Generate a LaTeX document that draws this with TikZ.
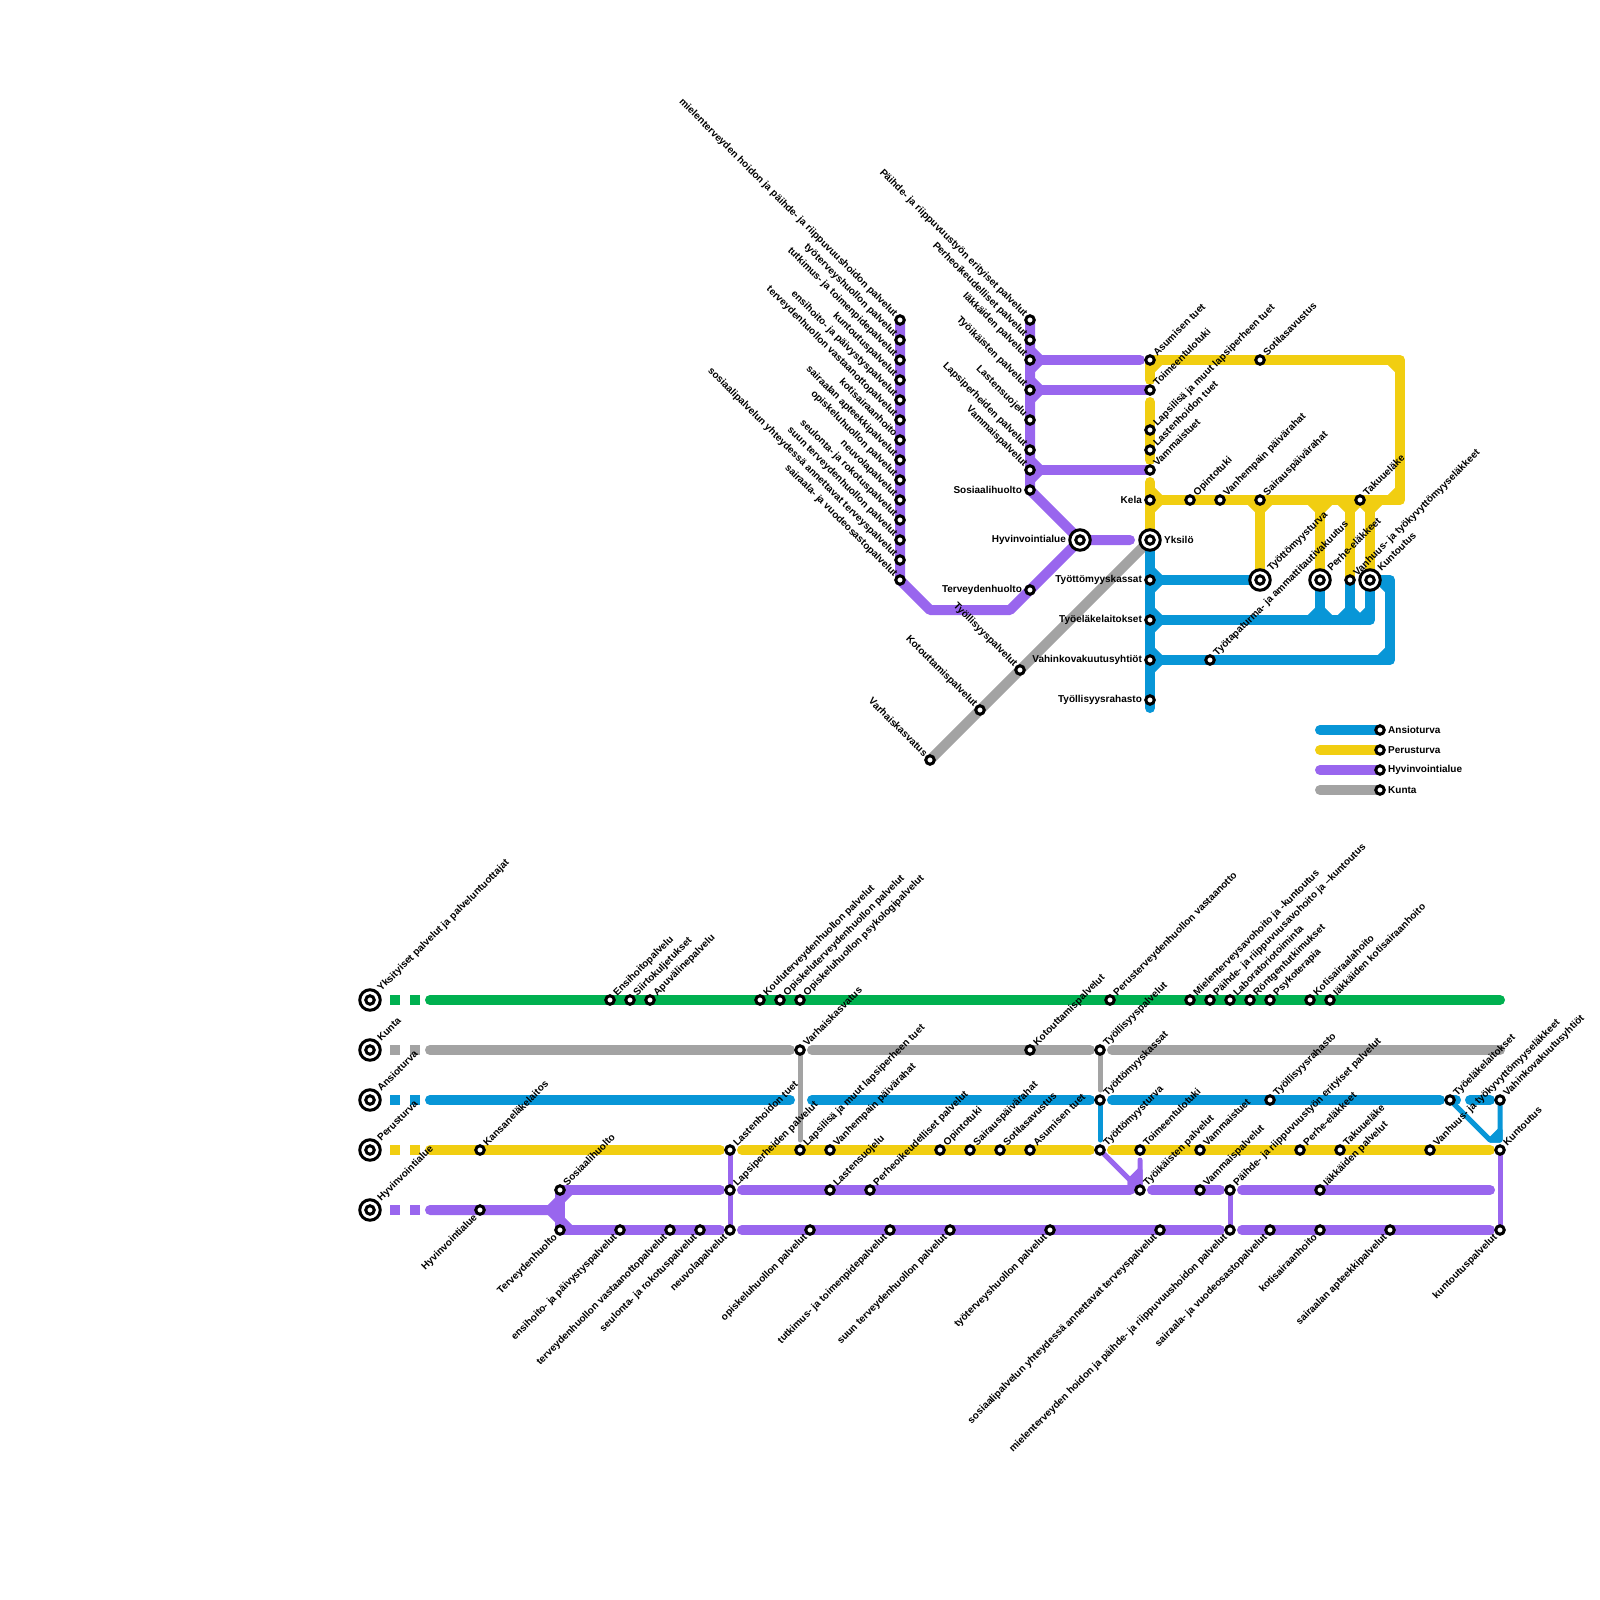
\documentclass[tikz,border=0pt]{standalone}
\usepackage{fontspec}
\setmainfont{Liberation Sans}
\usepackage{tikz}
\usetikzlibrary{backgrounds}

\definecolor{ansio}{HTML}{0896D7}
\definecolor{peru}{HTML}{F1CE11}
\definecolor{hyvin}{HTML}{9966EE}
\definecolor{kunta}{HTML}{A3A3A3}
\definecolor{yksit}{HTML}{00B050}

% haarojen kulmat
\newcommand{\jointr}[2]{\draw[ln,#1] ([shift={(0,-10)}]#2) -- ([shift={(10,0)}]#2) -- ([shift={(0,10)}]#2);}
\newcommand{\jointd}[2]{\draw[ln,#1] ([shift={(-10,0)}]#2) -- ([shift={(0,10)}]#2) -- ([shift={(10,0)}]#2);}
\newcommand{\jointu}[2]{\draw[ln,#1] ([shift={(-10,0)}]#2) -- ([shift={(0,-10)}]#2) -- ([shift={(10,0)}]#2);}

\begin{document}
\begin{tikzpicture}[
      x=0.5pt, y=-0.5pt,
      every label/.style={font=\bfseries\fontsize{5}{6}\selectfont, inner sep=0pt},
      stn/.style={circle, draw=black, line width=1.5pt, fill=white, minimum size=4.25pt, inner sep=0pt},
      hubc/.style={circle, draw=black, line width=1.5pt, fill=white, minimum size=10.25pt, inner sep=0pt},
      tne/.style={xshift=3.5pt, yshift=-1.2pt, rotate=45, anchor=base west},
      hne/.style={xshift=5.6pt, yshift=-1.85pt, rotate=45, anchor=base west},
      tnw/.style={xshift=-0.25pt, yshift=1.25pt, rotate=-45, anchor=base east},
      tsw/.style={xshift=-1.06pt, yshift=-1.06pt, rotate=45, anchor=base east},
      tl/.style={anchor=east, xshift=-1pt},
      tr/.style={anchor=west, xshift=1pt},
      ln/.style={line width=5pt, line cap=round, line join=round},
      slim/.style={line width=2.5pt, line cap=round, line join=round},
      dsh/.style={line width=5pt, dash pattern=on 5pt off 5pt},
      gapa/.style={shorten <=6pt},
      gapb/.style={shorten >=5pt}
    ]
    \useasboundingbox (0,0) rectangle (1600,1600);

    % YLAKARTTA: ASEMAT
    \node[stn, label={[tnw]180:mielenterveyden hoidon ja päihde- ja riippuvuushoidon palvelut}] (miel) at (900,320) {};
    \node[stn, label={[tnw]180:työterveyshuollon palvelut}] (tyot) at (900,340) {};
    \node[stn, label={[tnw]180:tutkimus- ja toimenpidepalvelut}] (tutk) at (900,360) {};
    \node[stn, label={[tnw]180:kuntoutuspalvelut}] (kuntp) at (900,380) {};
    \node[stn, label={[tnw]180:ensihoito- ja päivystyspalvelut}] (ensi) at (900,400) {};
    \node[stn, label={[tnw]180:terveydenhuollon vastaanottopalvelut}] (vast) at (900,420) {};
    \node[stn, label={[tnw]180:kotisairaanhoito}] (koti) at (900,440) {};
    \node[stn, label={[tnw]180:sairaalan apteekkipalvelut}] (apte) at (900,460) {};
    \node[stn, label={[tnw]180:opiskeluhuollon palvelut}] (opis) at (900,480) {};
    \node[stn, label={[tnw]180:neuvolapalvelut}] (neuv) at (900,500) {};
    \node[stn, label={[tnw]180:seulonta- ja rokotuspalvelut}] (seul) at (900,520) {};
    \node[stn, label={[tnw]180:suun terveydenhuollon palvelut}] (suun) at (900,540) {};
    \node[stn, label={[tnw]180:sosiaalipalvelun yhteydessä annettavat terveyspalvelut}] (sosp) at (900,560) {};
    \node[stn, label={[tnw]180:sairaala- ja vuodeosastopalvelut}] (vuod) at (900,580) {};

    \node[stn, label={[tnw]180:Päihde- ja riippuvuustyön erityiset palvelut}] (paih) at (1030,320) {};
    \node[stn, label={[tnw]180:Perheoikeudelliset palvelut}] (perh) at (1030,340) {};
    \node[stn, label={[tnw]180:Iäkkäiden palvelut}] (iakk) at (1030,360) {};
    \node[stn, label={[tnw]180:Työikäisten palvelut}] (tyoi) at (1030,390) {};
    \node[stn, label={[tnw]180:Lastensuojelu}] (lass) at (1030,420) {};
    \node[stn, label={[tnw]180:Lapsiperheiden palvelut}] (lapp) at (1030,450) {};
    \node[stn, label={[tnw]180:Vammaispalvelut}] (vamp) at (1030,470) {};
    \node[stn, label={[tl]180:Sosiaalihuolto}] (sosi) at (1030,490) {};
    \node[stn, label={[tl]180:Terveydenhuolto}] (terv) at (1030,590) {};
    \node[hubc, label={[tl]180:Hyvinvointialue}] (hyvi) at (1080,540) {};
    \node[stn] (hyviIn) at (hyvi) {};

    \node[stn, label={[tne]90:Asumisen tuet}] (asum) at (1150,360) {};
    \node[stn, label={[tne]90:Toimeentulotuki}] (toim) at (1150,390) {};
    \node[stn, label={[tne]90:Lapsilisä ja muut lapsiperheen tuet}] (lali) at (1150,430) {};
    \node[stn, label={[tne]90:Lastenhoidon tuet}] (lash) at (1150,450) {};
    \node[stn, label={[tne]90:Vammaistuet}] (vamt) at (1150,470) {};
    \node[stn, label={[tl]180:Kela}] (kela) at (1150,500) {};
    \node[hubc, label={[tr]0:Yksilö}] (yksi) at (1150,540) {};
    \node[stn] (yksiIn) at (yksi) {};
    \node[stn, label={[tl]180:Työttömyyskassat}] (kass) at (1150,580) {};
    \node[stn, label={[tl]180:Työeläkelaitokset}] (tyel) at (1150,620) {};
    \node[stn, label={[tl]180:Vahinkovakuutusyhtiöt}] (vahi) at (1150,660) {};
    \node[stn, label={[tl]180:Työllisyysrahasto}] (tyra) at (1150,700) {};

    \node[stn, label={[tne]90:Sotilasavustus}] (soti) at (1260,360) {};
    \node[stn, label={[tne]90:Opintotuki}] (opin) at (1190,500) {};
    \node[stn, label={[tne]90:Vanhempain päivärahat}] (vanp) at (1220,500) {};
    \node[stn, label={[tne]90:Sairauspäivärahat}] (sair) at (1260,500) {};
    \node[stn, label={[tne]90:Takuueläke}] (taku) at (1360,500) {};
    \node[hubc, label={[hne]90:Työttömyysturva}] (tytu) at (1260,580) {};
    \node[stn] (tytuIn) at (tytu) {};
    \node[hubc, label={[hne]90:Perhe-eläkkeet}] (peel) at (1320,580) {};
    \node[stn] (peelIn) at (peel) {};
    \node[stn, label={[tne]90:Vanhuus- ja työkyvyttömyyseläkkeet}] (vanh) at (1350,580) {};
    \node[hubc, label={[hne]90:Kuntoutus}] (kunt) at (1370,580) {};
    \node[stn] (kuntIn) at (kunt) {};
    \node[stn, label={[tne]90:Työtapaturma- ja ammattitautivakuutus}] (tapa) at (1210,660) {};

    \node[stn, label={[tnw]180:Työllisyyspalvelut}] (tyop) at (1020,670) {};
    \node[stn, label={[tnw]180:Kotouttamispalvelut}] (koto) at (980,710) {};
    \node[stn, label={[tnw]180:Varhaiskasvatus}] (varh) at (930,760) {};

    % SELITE
    \node[stn, label={[tr]0:Ansioturva}] (selA) at (1380,730) {};
    \node[stn, label={[tr]0:Perusturva}] (selP) at (1380,750) {};
    \node[stn, label={[tr]0:Hyvinvointialue}] (selH) at (1380,770) {};
    \node[stn, label={[tr]0:Kunta}] (selK) at (1380,790) {};

    % ALAKARTTA: ASEMAT
    \node[hubc, label={[hne]90:Yksityiset palvelut ja palveluntuottajat}] (rowY) at (370,1000) {};
    \node[stn] (rowYIn) at (rowY) {};
    \node[hubc, label={[hne]90:Kunta}] (rowK) at (370,1050) {};
    \node[stn] (rowKIn) at (rowK) {};
    \node[hubc, label={[hne]90:Ansioturva}] (rowA) at (370,1100) {};
    \node[stn] (rowAIn) at (rowA) {};
    \node[hubc, label={[hne]90:Perusturva}] (rowP) at (370,1150) {};
    \node[stn] (rowPIn) at (rowP) {};
    \node[hubc, label={[hne]90:Hyvinvointialue}] (rowH) at (370,1210) {};
    \node[stn] (rowHIn) at (rowH) {};

    % vihreä rivi
    \node[stn, label={[tne]90:Ensihoitopalvelu}] (gEnsi) at (610,1000) {};
    \node[stn, label={[tne]90:Siirtokuljetukset}] (gSiir) at (630,1000) {};
    \node[stn, label={[tne]90:Apuvälinepalvelu}] (gApuv) at (650,1000) {};
    \node[stn, label={[tne]90:Kouluterveydenhuollon palvelut}] (gKoul) at (760,1000) {};
    \node[stn, label={[tne]90:Opiskeluterveydenhuollon palvelut}] (gOpit) at (780,1000) {};
    \node[stn, label={[tne]90:Opiskeluhuollon psykologipalvelut}] (gOpih) at (800,1000) {};
    \node[stn, label={[tne]90:Perusterveydenhuollon vastaanotto}] (gPeru) at (1110,1000) {};
    \node[stn, label={[tne]90:Mielenterveysavohoito ja -kuntoutus}] (gMiel) at (1190,1000) {};
    \node[stn, label={[tne]90:Päihde- ja riippuvuusavohoito ja –kuntoutus}] (gPaih) at (1210,1000) {};
    \node[stn, label={[tne]90:Laboratoriotoiminta}] (gLabo) at (1230,1000) {};
    \node[stn, label={[tne]90:Röntgentutkimukset}] (gRont) at (1250,1000) {};
    \node[stn, label={[tne]90:Psykoterapia}] (gPsyk) at (1270,1000) {};
    \node[stn, label={[tne]90:Kotisairaalahoito}] (gKoti) at (1310,1000) {};
    \node[stn, label={[tne]90:Iäkkäiden kotisairaanhoito}] (gIakk) at (1330,1000) {};

    % harmaa rivi
    \node[stn, label={[tne]90:Varhaiskasvatus}] (kVarh) at (800,1050) {};
    \node[stn, label={[tne]90:Kotouttamispalvelut}] (kKoto) at (1030,1050) {};
    \node[stn, label={[tne]90:Työllisyyspalvelut}] (kTyop) at (1100,1050) {};

    % sininen rivi
    \node[stn, label={[tne]90:Työttömyyskassat}] (aKass) at (1100,1100) {};
    \node[stn, label={[tne]90:Työllisyysrahasto}] (aTyra) at (1270,1100) {};
    \node[stn, label={[tne]90:Työeläkelaitokset}] (aTyel) at (1450,1100) {};
    \node[stn, label={[tne]90:Vahinkovakuutusyhtiöt}] (aVahi) at (1500,1100) {};

    % keltainen rivi
    \node[stn, label={[tne]90:Kansaneläkelaitos}] (pKans) at (480,1150) {};
    \node[stn, label={[tne]90:Lastenhoidon tuet}] (pLash) at (730,1150) {};
    \node[stn, label={[tne]90:Lapsilisä ja muut lapsiperheen tuet}] (pLali) at (800,1150) {};
    \node[stn, label={[tne]90:Vanhempain päivärahat}] (pVanp) at (830,1150) {};
    \node[stn, label={[tne]90:Opintotuki}] (pOpin) at (940,1150) {};
    \node[stn, label={[tne]90:Sairauspäivärahat}] (pSair) at (970,1150) {};
    \node[stn, label={[tne]90:Sotilasavustus}] (pSoti) at (1000,1150) {};
    \node[stn, label={[tne]90:Asumisen tuet}] (pAsum) at (1030,1150) {};
    \node[stn, label={[tne]90:Työttömyysturva}] (pTytu) at (1100,1150) {};
    \node[stn, label={[tne]90:Toimeentulotuki}] (pToim) at (1140,1150) {};
    \node[stn, label={[tne]90:Vammaistuet}] (pVamt) at (1200,1150) {};
    \node[stn, label={[tne]90:Perhe-eläkkeet}] (pPeel) at (1300,1150) {};
    \node[stn, label={[tne]90:Takuueläke}] (pTaku) at (1340,1150) {};
    \node[stn, label={[tne]90:Vanhuus- ja työkyvyttömyyseläkkeet}] (pVanh) at (1430,1150) {};
    \node[stn, label={[tne]90:Kuntoutus}] (pKunt) at (1500,1150) {};

    % violetit rivit
    \node[stn, label={[tsw]270:Hyvinvointialue}] (hHyvi) at (480,1210) {};
    \node[stn, label={[tne]90:Sosiaalihuolto}] (hSosi) at (560,1190) {};
    \node[stn, label={[tne]90:Lapsiperheiden palvelut}] (hLapp) at (730,1190) {};
    \node[stn, label={[tne]90:Lastensuojelu}] (hLass) at (830,1190) {};
    \node[stn, label={[tne]90:Perheoikeudelliset palvelut}] (hPerh) at (870,1190) {};
    \node[stn, label={[tne]90:Työikäisten palvelut}] (hTyoi) at (1140,1190) {};
    \node[stn, label={[tne]90:Vammaispalvelut}] (hVamp) at (1200,1190) {};
    \node[stn, label={[tne]90:Päihde- ja riippuvuustyön erityiset palvelut}] (hPaih) at (1230,1190) {};
    \node[stn, label={[tne]90:Iäkkäiden palvelut}] (hIakk) at (1320,1190) {};

    \node[stn, label={[tsw]270:Terveydenhuolto}] (hTerv) at (560,1230) {};
    \node[stn, label={[tsw]270:ensihoito- ja päivystyspalvelut}] (hEnsi) at (620,1230) {};
    \node[stn, label={[tsw]270:terveydenhuollon vastaanottopalvelut}] (hVast) at (670,1230) {};
    \node[stn, label={[tsw]270:seulonta- ja rokotuspalvelut}] (hSeul) at (700,1230) {};
    \node[stn, label={[tsw]270:neuvolapalvelut}] (hNeuv) at (730,1230) {};
    \node[stn, label={[tsw]270:opiskeluhuollon palvelut}] (hOpis) at (810,1230) {};
    \node[stn, label={[tsw]270:tutkimus- ja toimenpidepalvelut}] (hTutk) at (890,1230) {};
    \node[stn, label={[tsw]270:suun terveydenhuollon palvelut}] (hSuun) at (950,1230) {};
    \node[stn, label={[tsw]270:työterveyshuollon palvelut}] (hTyot) at (1050,1230) {};
    \node[stn, label={[tsw]270:sosiaalipalvelun yhteydessä annettavat terveyspalvelut}] (hSosp) at (1160,1230) {};
    \node[stn, label={[tsw]270:mielenterveyden hoidon ja päihde- ja riippuvuushoidon palvelut}] (hMiel) at (1230,1230) {};
    \node[stn, label={[tsw]270:sairaala- ja vuodeosastopalvelut}] (hVuod) at (1270,1230) {};
    \node[stn, label={[tsw]270:kotisairaanhoito}] (hKoti) at (1320,1230) {};
    \node[stn, label={[tsw]270:sairaalan apteekkipalvelut}] (hApte) at (1390,1230) {};
    \node[stn, label={[tsw]270:kuntoutuspalvelut}] (hKunp) at (1500,1230) {};

    % APUPISTEET
    \coordinate (cA) at (930,610);
    \coordinate (cB) at (1010,610);
    \coordinate (cHy) at (1130,540);
    \coordinate (cTL) at (1160,360);
    \coordinate (cTLd) at (1150,370);
    \coordinate (cTR) at (1400,360);
    \coordinate (cBR) at (1400,500);
    \coordinate (cTRa) at (1390,360);
    \coordinate (cTRb) at (1400,370);
    \coordinate (cBRa) at (1400,490);
    \coordinate (cBRb) at (1390,500);
    \coordinate (cIa) at (1140,360);
    \coordinate (jY1) at (1260,500);
    \coordinate (jY2) at (1320,500);
    \coordinate (jY3) at (1350,500);
    \coordinate (jY4) at (1370,500);
    \coordinate (jB2) at (1320,620);
    \coordinate (jB3) at (1350,620);
    \coordinate (jB4) at (1370,620);
    \coordinate (jB4a) at (1370,610);
    \coordinate (jB4b) at (1360,620);
    \coordinate (cBot) at (1150,708);
    \coordinate (cO1) at (1390,660);
    \coordinate (cO2) at (1390,580);
    \coordinate (cO1a) at (1380,660);
    \coordinate (cO1b) at (1390,650);
    \coordinate (cO2a) at (1380,580);
    \coordinate (cO2b) at (1390,590);
    \coordinate (selA0) at (1320,730);
    \coordinate (selP0) at (1320,750);
    \coordinate (selH0) at (1320,770);
    \coordinate (selK0) at (1320,790);
    \coordinate (yS) at (430,1000);
    \coordinate (yE) at (1500,1000);
    \coordinate (kS) at (430,1050);
    \coordinate (kE) at (1500,1050);
    \coordinate (aS) at (430,1100);
    \coordinate (aB) at (1456,1100);
    \coordinate (aC) at (1470,1100);
    \coordinate (pS) at (430,1150);
    \coordinate (hS) at (430,1210);
    \coordinate (hF) at (550,1210);
    \coordinate (hFa) at (560,1200);
    \coordinate (hFb) at (560,1220);
    \coordinate (hFc) at (570,1190);
    \coordinate (hFd) at (570,1230);
    \coordinate (hE1) at (1490,1190);
    \coordinate (hX1) at (1130,1180);
    \coordinate (hX2) at (1130,1190);
    \coordinate (hX3) at (1140,1170);
    \coordinate (hX4) at (1140,1160);
    \coordinate (aX1) at (1490,1140);
    \coordinate (aX2) at (1500,1140);
    \coordinate (aX3) at (1500,1130);

    % VIIVAT
    \begin{scope}[on background layer]
      % hyvinvointialue ylhaalla
      \draw[ln, hyvin] (miel.center) -- (vuod.center) -- (cA) -- (cB) -- (hyvi.center);
      \draw[ln, hyvin] (paih.center) -- (sosi.center) -- (hyvi.center) -- (cHy);
      \draw[ln, hyvin] (iakk.center) -- (cIa);
      \draw[ln, hyvin] (tyoi.center) -- (toim.center);
      \draw[ln, hyvin] (vamp.center) -- (vamt.center);
      \jointr{hyvin}{iakk.center}
      \jointr{hyvin}{tyoi.center}
      \jointr{hyvin}{vamp.center}

      % kunta ylhaalla
      \draw[ln, kunta] (varh.center) -- (koto.center) -- (tyop.center) -- (yksi.center);

      % perusturva ylhaalla
      \draw[ln, peru, gapb] (asum.center) -- (toim.center);
      \draw[ln, peru, gapa, gapb] (toim.center) -- (vamt.center);
      \draw[ln, peru, gapa] (vamt.center) -- (yksi.center);
      \draw[ln, peru] (asum.center) -- (cTR) -- (cBR) -- (kela.center);
      \draw[ln, peru] (cTLd) -- (cTL);
      \draw[ln, peru] (cTRa) -- (cTRb);
      \draw[ln, peru] (cBRa) -- (cBRb);
      \jointr{peru}{kela.center}
      \jointd{peru}{jY1}
      \jointd{peru}{jY2}
      \jointd{peru}{jY3}
      \jointd{peru}{jY4}
      \draw[ln, peru] (jY1) -- (tytu.center);
      \draw[ln, peru] (jY2) -- (peel.center);
      \draw[ln, peru] (jY3) -- (vanh.center);
      \draw[ln, peru] (jY4) -- (kunt.center);

      % ansioturva ylhaalla
      \draw[ln, ansio] (yksi.center) -- (cBot);
      \draw[ln, ansio] (kass.center) -- (tytu.center);
      \draw[ln, ansio] (tyel.center) -- (jB4) -- (kunt.center);
      \draw[ln, ansio] (vahi.center) -- (cO1) -- (cO2) -- (kunt.center);
      \draw[ln, ansio] (peel.center) -- (jB2);
      \draw[ln, ansio] (vanh.center) -- (jB3);
      \draw[ln, ansio] (jB4a) -- (jB4b);
      \draw[ln, ansio] (cO1a) -- (cO1b);
      \draw[ln, ansio] (cO2a) -- (cO2b);
      \jointr{ansio}{kass.center}
      \jointr{ansio}{tyel.center}
      \jointr{ansio}{vahi.center}
      \jointu{ansio}{jB2}
      \jointu{ansio}{jB3}

      % selite
      \draw[ln, ansio] (selA0) -- (selA.center);
      \draw[ln, peru] (selP0) -- (selP.center);
      \draw[ln, hyvin] (selH0) -- (selH.center);
      \draw[ln, kunta] (selK0) -- (selK.center);

      % rivien katkot
      \draw[dsh, yksit] (rowY.center) -- (yS);
      \draw[dsh, kunta] (rowK.center) -- (kS);
      \draw[dsh, ansio] (rowA.center) -- (aS);
      \draw[dsh, peru] (rowP.center) -- (pS);
      \draw[dsh, hyvin] (rowH.center) -- (hS);

      % rivit
      \draw[ln, yksit] (yS) -- (yE);
      \draw[ln, kunta, gapb] (kS) -- (kVarh.center);
      \draw[ln, kunta, gapa, gapb] (kVarh.center) -- (kTyop.center);
      \draw[ln, kunta, gapa] (kTyop.center) -- (kE);
      \draw[ln, ansio, gapb] (aS) -- (kVarh.center |- aS);
      \draw[ln, ansio, gapa, gapb] (kVarh.center |- aS) -- (aKass.center);
      \draw[ln, ansio, gapa, gapb] (aKass.center) -- (aTyel.center);
      \draw[ln, ansio] (aTyel.center) -- (aB);
      \draw[ln, ansio, gapb] (aC) -- (aVahi.center);
      \draw[ln, peru, gapb] (pS) -- (pLash.center);
      \draw[ln, peru, gapa, gapb] (pLash.center) -- (pTytu.center);
      \draw[ln, peru, gapa, gapb] (pTytu.center) -- (pKunt.center);

      % violetit
      \draw[ln, hyvin] (hS) -- (hF) -- (hFa);
      \draw[ln, hyvin] (hF) -- (hFb);
      \draw[ln, hyvin] (hSosi.center) -- (hTerv.center);
      \draw[ln, hyvin] (hFa) -- (hFc);
      \draw[ln, hyvin] (hFb) -- (hFd);
      \draw[ln, hyvin, gapb] (hSosi.center) -- (hLapp.center);
      \draw[ln, hyvin, gapa, gapb] (hLapp.center) -- (hTyoi.center);
      \draw[ln, hyvin, gapa, gapb] (hTyoi.center) -- (hPaih.center);
      \draw[ln, hyvin, gapa] (hPaih.center) -- (hE1);
      \draw[ln, hyvin, gapb] (hTerv.center) -- (hNeuv.center);
      \draw[ln, hyvin, gapa, gapb] (hNeuv.center) -- (hMiel.center);
      \draw[ln, hyvin, gapa, gapb] (hMiel.center) -- (hKunp.center);

      % ohuet yhteydet
      \draw[slim, kunta, gapb] (kVarh.center) -- (pLali.center);
      \draw[slim, kunta, gapb] (kTyop.center) -- (aKass.center);
      \draw[slim, ansio, gapb] (aKass.center) -- (pTytu.center);
      \draw[slim, hyvin] (pLash.center) -- (hNeuv.center);
      \draw[slim, hyvin] (hPaih.center) -- (hMiel.center);
      \draw[slim, hyvin] (pKunt.center) -- (hKunp.center);
      \draw[slim, hyvin] (pTytu.center) -- (hX1) -- (hX2) -- (hTyoi.center) -- (hX4);
      \draw[slim, hyvin, fill=hyvin] (hX1) -- (hX3) -- (hTyoi.center) -- (hX2) -- cycle;
      \draw[slim, ansio] (aTyel.center) -- (aX1) -- (aX2) -- (aVahi.center);
      \draw[slim, ansio, fill=ansio] (aX1) -- (aX3) -- (aX2) -- cycle;
    \end{scope}
  \end{tikzpicture}
\end{document}
